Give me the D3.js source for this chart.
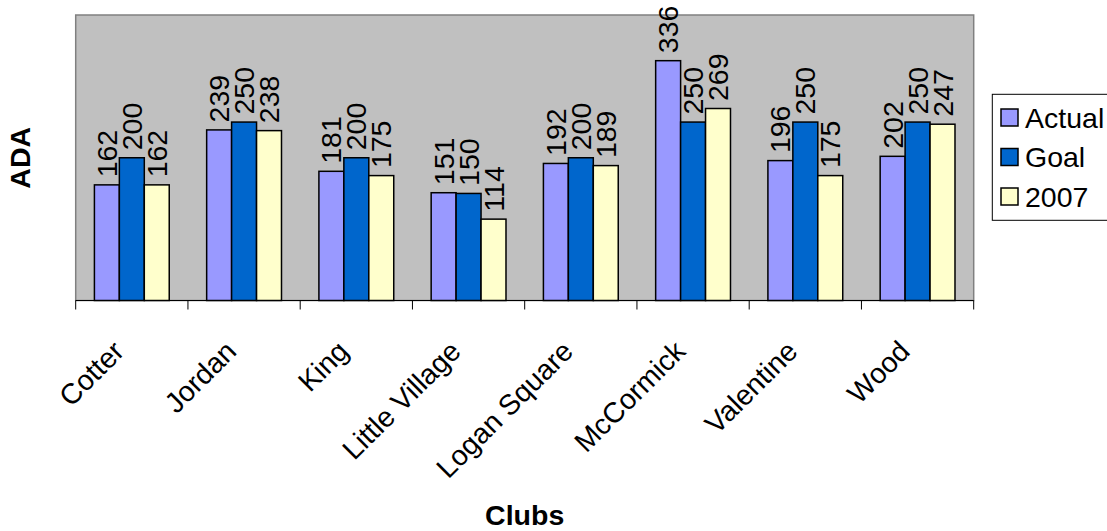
<!DOCTYPE html>
<html><head><meta charset="utf-8">
<script src="https://cdn.jsdelivr.net/npm/d3@7/dist/d3.min.js"></script>
<style>html,body{margin:0;padding:0;background:#fff;overflow:hidden}</style>
</head><body>
<svg id="chart" width="1107" height="531"></svg>
<script>
const categories = ["Cotter","Jordan","King","Little Village","Logan Square","McCormick","Valentine","Wood"];
const seriesNames = ["Actual","Goal","2007"];
const actual = [162,239,181,151,192,336,196,202];
const goal   = [200,250,200,150,200,250,250,250];
const y2007  = [162,238,175,114,189,269,175,247];
const seriesValues = [actual, goal, y2007];
const colors = ["#9999FF","#0066CC","#FFFFCC"];
const yDomain = [0, 400];
const xTitle = "Clubs", yTitle = "ADA";

const FONT = "Arial, 'Liberation Sans', sans-serif";
const FS = 28.5;
const svg = d3.select("#chart");
const L = 75.7, R = 973.7, T = 15, B = 300.5;

const x = d3.scaleBand().domain(categories).range([L, R]).padding(0);
const bw = x.bandwidth();
const barW = bw / 4.5; // gap width 150%
const xs = d3.scaleBand().domain(seriesNames).range([barW*0.75, bw - barW*0.75]).padding(0);
const y = d3.scaleLinear().domain(yDomain).range([B, T]);

// plot area
svg.append("rect").attr("x", L).attr("y", T).attr("width", R-L).attr("height", B-T)
  .attr("fill", "#C0C0C0").attr("stroke", "#808080").attr("stroke-width", 1.5);

// bars
const data = [];
categories.forEach((c,i)=>seriesNames.forEach((s,j)=>data.push({c, s, v: seriesValues[j][i], j})));
svg.append("g").selectAll("rect").data(data).join("rect")
  .attr("x", d => x(d.c) + xs(d.s))
  .attr("y", d => y(d.v))
  .attr("width", xs.bandwidth())
  .attr("height", d => B - y(d.v))
  .attr("fill", d => colors[d.j])
  .attr("stroke", "#000").attr("stroke-width", 1.5);

// data labels
svg.append("g").selectAll("text").data(data).join("text")
  .attr("transform", d => `translate(${x(d.c) + xs(d.s) + xs.bandwidth()/2},${y(d.v) - 7.5}) rotate(-90)`)
  .attr("dominant-baseline", "central")
  .attr("font-family", FONT).attr("font-size", FS).attr("fill", "#000")
  .text(d => d.v);

// x axis
const ax = svg.append("g").attr("transform", `translate(0,${B})`);
ax.append("line").attr("x1", L).attr("x2", R).attr("stroke", "#000").attr("stroke-width", 1);
const tickPos = categories.map(c => x(c)).concat([R]);
ax.selectAll("line.tick").data(tickPos).join("line").attr("class","tick")
  .attr("x1", d=>d).attr("x2", d=>d).attr("y1", 0).attr("y2", 9)
  .attr("stroke", "#000").attr("stroke-width", 1);

svg.append("g").selectAll("text").data(categories).join("text")
  .attr("transform", d => `translate(${x(d) + bw/2 - 6},${353}) rotate(-45)`)
  .attr("text-anchor", "end")
  .attr("font-family", FONT).attr("font-size", FS).attr("fill", "#000")
  .text(d => d);

// axis titles
svg.append("text").attr("x", (L+R)/2).attr("y", 525).attr("text-anchor","middle")
  .attr("font-family", FONT).attr("font-weight","bold").attr("font-size", FS).text(xTitle);
svg.append("text").attr("transform", `translate(30,${(T+B)/2}) rotate(-90)`).attr("text-anchor","middle")
  .attr("font-family", FONT).attr("font-weight","bold").attr("font-size", FS).text(yTitle);

// legend
const lg = svg.append("g");
lg.append("rect").attr("x", 992.3).attr("y", 94.3).attr("width", 130).attr("height", 126)
  .attr("fill", "#fff").attr("stroke", "#000").attr("stroke-width", 1);
seriesNames.forEach((s,i)=>{
  const cy = 117.5 + i*39.5;
  lg.append("rect").attr("x", 1001).attr("y", cy - 8.5).attr("width", 17).attr("height", 17)
    .attr("fill", colors[i]).attr("stroke", "#000").attr("stroke-width", 1.5);
  lg.append("text").attr("x", 1025).attr("y", cy).attr("dominant-baseline","central")
    .attr("font-family", FONT).attr("font-size", FS).text(s);
});
</script>
</body></html>
